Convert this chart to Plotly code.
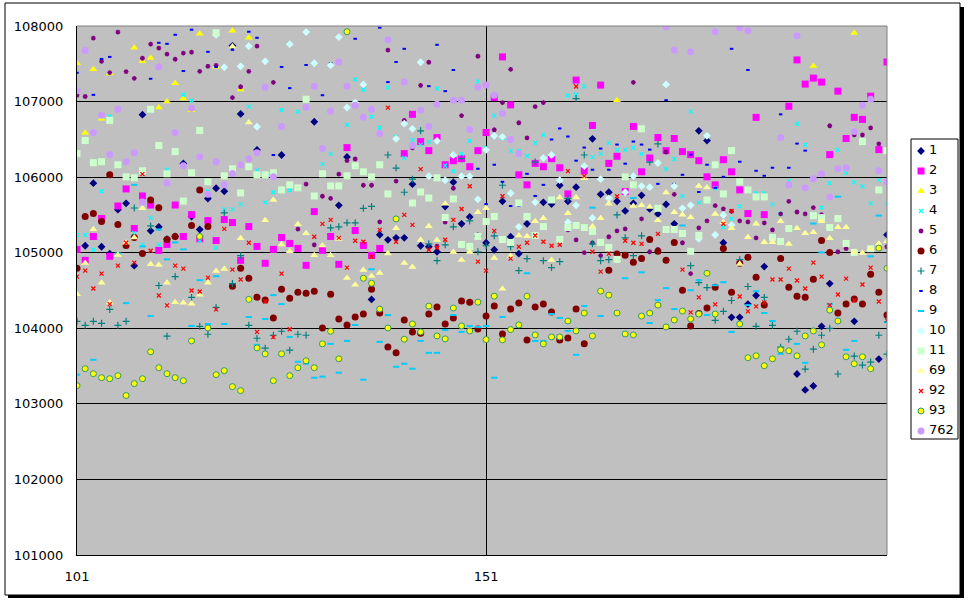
import plotly.graph_objects as go

n = None
x_vals = list(range(101, 201))

s1 = [n,105092,105920,105079,104987,105570,105653,104829,106827,105289,
      105342,105180,105215,106182,105478,105307,105716,105853,105813,107738,
      106836,n,106360,n,n,106293,n,n,n,106733,
      n,n,105627,106267,n,n,104382,105237,105171,105197,
      105197,105907,105092,105079,105013,105610,105933,105382,105474,105219,
      105132,105039,105680,105211,104987,105382,n,105667,105644,105893,
      105680,105867,n,106507,105773,105800,105680,105553,105653,105760,
      105579,105513,105640,105382,n,n,106613,106484,n,105132,
      104145,104145,104320,104434,104816,n,n,n,103395,103184,
      103237,104026,104592,n,n,104092,n,n,103592,105237]
s2 = [105044,104899,105215,105452,104952,105618,105844,105320,105751,105631,
      105031,105110,105631,105215,105504,105184,105425,105162,105439,105399,
      104899,105346,105083,104860,105044,105202,105123,105057,104833,105544,
      105031,105215,104846,106391,105294,105096,104965,105057,n,n,
      106311,106831,106471,106351,106524,106164,106218,106244,106138,106351,
      106591,107053,107591,106956,106031,105898,106182,106138,106244,106124,
      105778,107284,106084,106684,107218,106182,106276,105809,106671,106071,
      106253,106524,106351,106511,106338,106298,106218,106004,105898,106231,
      106071,105831,105518,106791,105504,n,n,106938,107551,107231,
      107311,107258,106298,107138,106511,106791,106764,107071,106364,107524]
s3 = [107507,106587,107427,106773,107373,n,n,107711,107533,107578,
      106920,107000,107244,107040,106884,107898,n,107462,n,107938,
      107160,107844,n,n,n,n,n,n,n,n,
      n,n,n,n,n,n,n,n,n,n,
      n,n,n,n,n,n,n,n,n,n,
      n,n,n,n,n,n,n,n,n,n,
      n,n,n,n,n,n,107018,n,n,n,
      n,n,n,n,n,n,n,n,n,n,
      n,n,n,n,n,n,n,n,n,n,
      107471,n,n,n,n,107907,n,n,n,n]
s4 = [105237,105237,105039,105813,106804,n,n,105263,105105,105461,
      105105,106098,n,107090,107013,105162,105813,105066,105573,105573,
      105640,106933,106093,105667,105800,106889,105827,106867,n,n,
      106173,106307,n,106693,107293,107160,106800,106653,107187,106533,
      106253,106493,106427,106467,107173,106151,106080,106307,106480,107267,
      106387,106813,106520,106347,106347,106280,106453,106560,106293,n,
      107080,107093,107200,106267,106307,106453,106360,106360,106387,106307,
      n,n,106107,106240,105747,106867,105662,n,105853,105338,
      105447,105613,n,105787,105787,105640,105513,105951,106707,106427,
      n,105596,105920,106360,106053,105933,105880,105653,105960,105653]
s5 = [107084,107067,107840,107533,107382,107920,107396,107307,107573,107760,
      107707,107627,107560,107640,107653,107400,107467,107480,n,107053,
      107196,107400,107733,n,107253,n,n,105311,105907,105105,
      105747,105720,106040,106218,106240,105893,105893,105408,107680,105947,
      106751,106387,107213,107520,105088,105404,105853,106813,n,107600,
      n,106627,106987,107427,106720,106520,106933,106987,n,n,
      105303,105171,105000,105130,104961,105211,105289,105316,107253,105447,
      105013,105044,106333,105773,105132,104724,105329,105421,105623,105579,
      105548,105421,105408,105197,105395,105303,105513,105680,105539,105513,
      105596,105504,106680,105013,105053,106560,106560,106653,106440,105079]
s6 = [104794,105478,105518,105412,106031,105373,105096,105200,104991,105698,
      105596,105175,105215,n,105360,105831,105346,n,n,104557,
      104794,104662,104412,104373,104136,104518,104399,104478,104465,104491,
      104004,104452,104123,104044,104149,104189,104518,104202,103754,103675,
      104110,103952,103934,104189,104281,104057,104136,104360,104346,103991,
      104162,104294,103925,104254,104333,103846,104281,104320,104215,103846,
      103873,104254,103794,n,n,104768,104982,104965,104873,104925,
      105175,105018,104899,105136,104504,104031,104197,104268,104544,105057,
      104478,104860,104939,104675,104307,n,104925,104544,104425,104412,
      104649,105162,105004,104202,104320,104386,104320,104715,104478,104175]
s7 = [104092,104039,104092,104066,104250,104039,104092,105592,n,105355,
      104566,103895,104684,n,104408,104026,103921,104276,105526,104592,
      104961,104039,103868,103737,103908,103961,103710,103921,103908,n,
      n,105329,105342,105395,105395,105587,105613,n,106293,106120,
      105800,105973,106613,105118,104895,105105,105342,106244,105421,105013,
      105092,105224,105893,105079,104763,104921,106200,104895,104803,104882,
      105720,107040,106293,105118,104895,104908,105500,105197,104961,105224,
      106200,106440,n,n,n,104829,104605,104539,104105,104224,
      104368,104908,104553,104026,104408,104039,103750,103855,103961,103460,
      103724,103908,104000,103395,n,103632,103513,103553,103908,103658]
s8 = [107382,n,107089,107564,107591,n,n,n,n,107302,
      107778,107764,107884,107404,107951,n,107658,107458,n,107684,
      n,107924,107844,n,106293,107458,107178,n,107484,n,
      107084,107511,n,n,107831,n,n,107978,107258,107524,
      107698,n,n,107204,107751,107138,107418,n,n,106111,
      105644,106164,105938,105618,105618,106044,105751,105898,106498,106644,
      106538,106218,106391,106098,106378,106098,106431,106178,106471,106431,
      106364,105911,107018,105911,106031,106298,105804,106164,105858,106004,
      107698,106204,107418,106084,106018,106124,106831,106124,106444,106351,
      105951,n,n,n,n,n,n,n,n,n]
s9 = [103386,n,103583,n,n,104991,104333,105898,105083,104162,
      105307,104912,105136,105044,104031,104636,104057,104689,104057,n,
      n,104149,103781,104123,104439,104320,103886,103557,103531,103346,
      103360,103794,103412,103833,104044,103320,104781,103820,104175,103491,
      103531,103465,103833,103675,103675,103978,104175,103952,104031,104018,
      104031,103346,104149,n,104018,104728,103833,103833,104189,104136,
      103965,103649,104294,105596,104162,n,n,104662,105724,104741,
      104070,104373,104531,104254,105360,104504,104636,104175,104570,104610,
      103952,104066,104307,104491,104202,104096,103662,n,103794,103544,
      105386,105004,104320,105742,103715,103833,103636,104952,105491,104083]
s10 = [n,n,n,n,n,n,n,n,n,n,
       n,n,n,n,n,n,n,107884,107453,n,
       107467,107733,106667,107533,n,n,107760,n,107920,107507,
       n,107480,107853,106920,106987,107227,n,n,n,106507,
       106707,106640,107520,106013,106480,105960,106293,106013,106013,105707,
       106360,106547,106533,105787,105342,105482,105667,106253,106293,105960,
       105404,105627,106147,105461,105973,105720,n,105800,106013,105880,
       105867,106187,107227,105880,105587,105627,105184,106547,105237,105500,
       105368,n,n,n,n,n,n,n,n,n,
       n,n,n,n,n,n,n,n,n,n]
s11 = [106311,106484,106191,106204,106751,106164,106004,105991,106084,106898,
       106418,106044,106338,105684,106058,106618,105938,107911,106018,106111,
       105791,106138,106031,106031,106058,105831,105898,105858,107031,105751,
       106044,105884,105884,106018,106151,106071,106004,106164,105778,n,
       n,105658,105804,105724,105991,105465,105711,105110,105083,105215,
       105412,105478,105175,105136,105658,105478,105228,105346,105698,105175,
       105333,105360,105333,105281,105136,105070,104912,106004,105898,106640,
       n,105588,105307,105307,105254,105018,105228,105698,106164,105778,
       106351,105938,105831,105738,105738,105202,105149,105320,n,n,
       105491,105465,105333,105452,105123,105004,106471,105053,105831,106351]
s69 = [104452,104864,105311,104601,104342,104969,105132,105202,105588,104846,
       104838,104601,104346,104338,104325,104443,104601,104759,104785,107729,
       105193,106724,n,105430,105698,105110,105018,105377,105259,104965,
       105096,104965,105180,104667,104575,104772,104693,104732,104991,105325,
       104864,104811,105167,105351,105167,105649,105009,104904,105009,105535,
       105588,104930,104522,104956,105228,105219,105417,105456,104904,105729,
       105522,105729,105985,105346,105456,105649,n,n,105618,105627,
       105604,105430,105796,105535,105504,105469,105884,105862,105513,105404,
       105325,104851,105206,105382,105140,105140,105417,105114,105325,105259,
       105272,105417,105193,105338,105338,105009,104996,105053,105118,105153]
s92 = [104684,104763,104526,104724,104320,104829,105132,104868,106040,105026,
       104434,104303,104829,104789,104500,104487,104671,104250,105316,104776,
       104645,105132,103952,104355,103882,104724,103987,n,n,105211,
       105382,105434,105197,104803,105158,105145,104947,105303,106920,105145,
       105500,105368,106107,105039,105066,105171,105434,105579,105880,104882,
       104763,105289,105747,104921,105079,105132,105228,105145,105092,105105,
       106080,107200,106013,105013,104750,104987,105747,105158,105132,105118,
       n,105250,n,n,104776,104211,104408,n,104316,105382,
       105553,104421,104224,104289,104342,104645,104645,104789,104632,104526,
       104868,104684,104307,104447,104658,104368,104579,104803,104355,104105]
s93 = [103241,103465,103399,103346,103333,103373,103110,103268,103333,103689,
       103478,103399,103346,103307,103833,105215,104004,103386,103439,103228,
       103175,104382,103741,103662,103307,103662,103373,103478,103570,103478,
       103794,103961,103596,107924,n,104662,104596,104254,104004,105447,
       103855,104057,103952,104294,103899,103860,104268,104031,103965,104346,
       103851,104425,103846,103982,104044,104425,103912,103794,103886,103886,
       104096,103965,104202,103899,104491,104439,104202,103925,103912,104162,
       104202,104307,104018,104110,104228,104123,104189,104728,104189,n,
       n,104057,103610,103636,103504,103596,103715,103702,103636,103899,
       103965,103781,104241,104096,103623,103531,103623,103465,105061,104794]
s762 = [107142,107675,106591,106818,106298,106898,106204,106324,105671,n,
        107458,105924,106591,106151,106911,106271,105773,106204,105898,106048,
        106164,106244,106324,107191,106004,106671,n,n,106924,107204,
        106378,106871,107524,107204,106951,106791,106898,106578,107818,n,
        107258,106418,106884,106671,106964,n,107018,107018,106631,107191,
        107218,107084,106844,106498,106311,n,n,n,n,n,
        n,n,n,n,n,n,n,n,n,n,
        n,n,107991,107684,n,107658,n,n,107924,n,
        n,107978,107938,n,n,n,106524,105898,107871,105858,
        105978,106044,105738,106111,106124,106604,106951,107031,106084,105938]

# name, values, symbol, size, fill, outline colour, outline width
series = [
    ('1', s1, 'diamond', 6, '#000080', '#000080', 0),
    ('2', s2, 'square', 7, '#FF00FF', '#FF00FF', 0),
    ('3', s3, 'triangle-up', 7, '#FFFF00', '#FFFF00', 0),
    ('4', s4, 'x-thin', 4, '#00FFFF', '#00FFFF', 1.2),
    ('5', s5, 'asterisk', 4, '#800080', '#800080', 1.3),
    ('6', s6, 'circle', 7, '#800000', '#800000', 0),
    ('7', s7, 'cross-thin', 5, '#008080', '#008080', 1.2),
    ('8', s8, 'line-ew', 2.5, '#0000FF', '#0000FF', 2),
    ('9', s9, 'line-ew', 4.5, '#00CCFF', '#00CCFF', 2),
    ('10', s10, 'diamond', 6, '#CCFFFF', '#CCFFFF', 0),
    ('11', s11, 'square', 7, '#CCFFCC', '#CCFFCC', 0),
    ('69', s69, 'triangle-up', 7, '#FFFF99', '#FFFF99', 0),
    ('92', s92, 'x-thin', 4, '#FF0000', '#FF0000', 1.2),
    ('93', s93, 'circle', 6, '#FFFF00', '#339966', 1),
    ('762', s762, 'circle', 7, '#CC99FF', '#CC99FF', 0),
]

W, H = 969, 603


def px(v):
    return v / W


def py(v):
    return 1 - v / H


def box(x0, y0, x1, y1, **kw):
    return dict(type='rect', xref='paper', yref='paper', x0=px(x0), x1=px(x1), y0=py(y0), y1=py(y1), **kw)


fig = go.Figure()
for name, values, symbol, size, fill, edge, edge_w in series:
    fig.add_trace(go.Scatter(
        x=x_vals, y=values, name=name, mode='markers', showlegend=False,
        marker=dict(symbol=symbol, size=size, color=fill, line=dict(color=edge, width=edge_w)),
    ))

# legend drawn on its own small axes, the native one can't be made this narrow
for row, (name, values, symbol, size, fill, edge, edge_w) in enumerate(series):
    fig.add_trace(go.Scatter(
        x=[10], y=[row], xaxis='x2', yaxis='y2', mode='markers', showlegend=False, hoverinfo='skip',
        marker=dict(symbol=symbol, size=size, color=fill, line=dict(color=edge, width=edge_w)),
    ))
    fig.add_trace(go.Scatter(
        x=[18], y=[row], xaxis='x2', yaxis='y2', mode='text', showlegend=False, hoverinfo='skip',
        text=[name], textposition='middle right', textfont=dict(size=13, color='black'),
    ))

shapes = [
    # outer chart frame with its drop shadow
    box(8, 7, 964, 598, fillcolor='black', line=dict(width=0), layer='below'),
    box(5, 3, 960, 595, fillcolor='white', line=dict(color='black', width=1), layer='below'),
    box(77, 26, 887, 555, fillcolor='#C0C0C0', line=dict(width=0), layer='below'),
    box(911, 139, 958, 439, fillcolor='white', line=dict(color='black', width=1), layer='below'),
    # grey top and right edges of the plot area
    dict(type='line', xref='paper', yref='paper', x0=px(77), x1=px(887), y0=py(26), y1=py(26),
         line=dict(color='#808080', width=1)),
    dict(type='line', xref='paper', yref='paper', x0=px(887), x1=px(887), y0=py(26), y1=py(555),
         line=dict(color='#808080', width=1)),
]

fig.update_layout(
    width=W, height=H,
    margin=dict(l=0, r=0, t=0, b=0, pad=0),
    paper_bgcolor='white', plot_bgcolor='white',
    font=dict(family='DejaVu Sans', size=13, color='black'),
    shapes=shapes,
    showlegend=False,
    xaxis=dict(
        domain=[px(77), px(887)], range=[101, 200], tickvals=[101, 151], automargin=False,
        showgrid=True, gridcolor='black', gridwidth=1,
        showline=True, linecolor='black', linewidth=1, zeroline=False,
        ticks='outside', ticklen=9, tickcolor='rgba(0,0,0,0)',
    ),
    yaxis=dict(
        domain=[py(555), py(26)], range=[101000, 108000], dtick=1000, tickformat='d', automargin=False,
        showgrid=True, gridcolor='black', gridwidth=1,
        showline=True, linecolor='black', linewidth=1, zeroline=False,
        ticks='outside', ticklen=10, tickcolor='rgba(0,0,0,0)',
    ),
    xaxis2=dict(domain=[px(911), px(958)], range=[0, 47], visible=False, anchor='y2', automargin=False),
    yaxis2=dict(domain=[py(439), py(139)], range=[14.4, -0.6], visible=False, anchor='x2', automargin=False),
)

# default page margin would push the chart 8px off the window
fig.write_html("out.html", post_script="document.body.style.margin='0';", config={'displayModeBar': False})
